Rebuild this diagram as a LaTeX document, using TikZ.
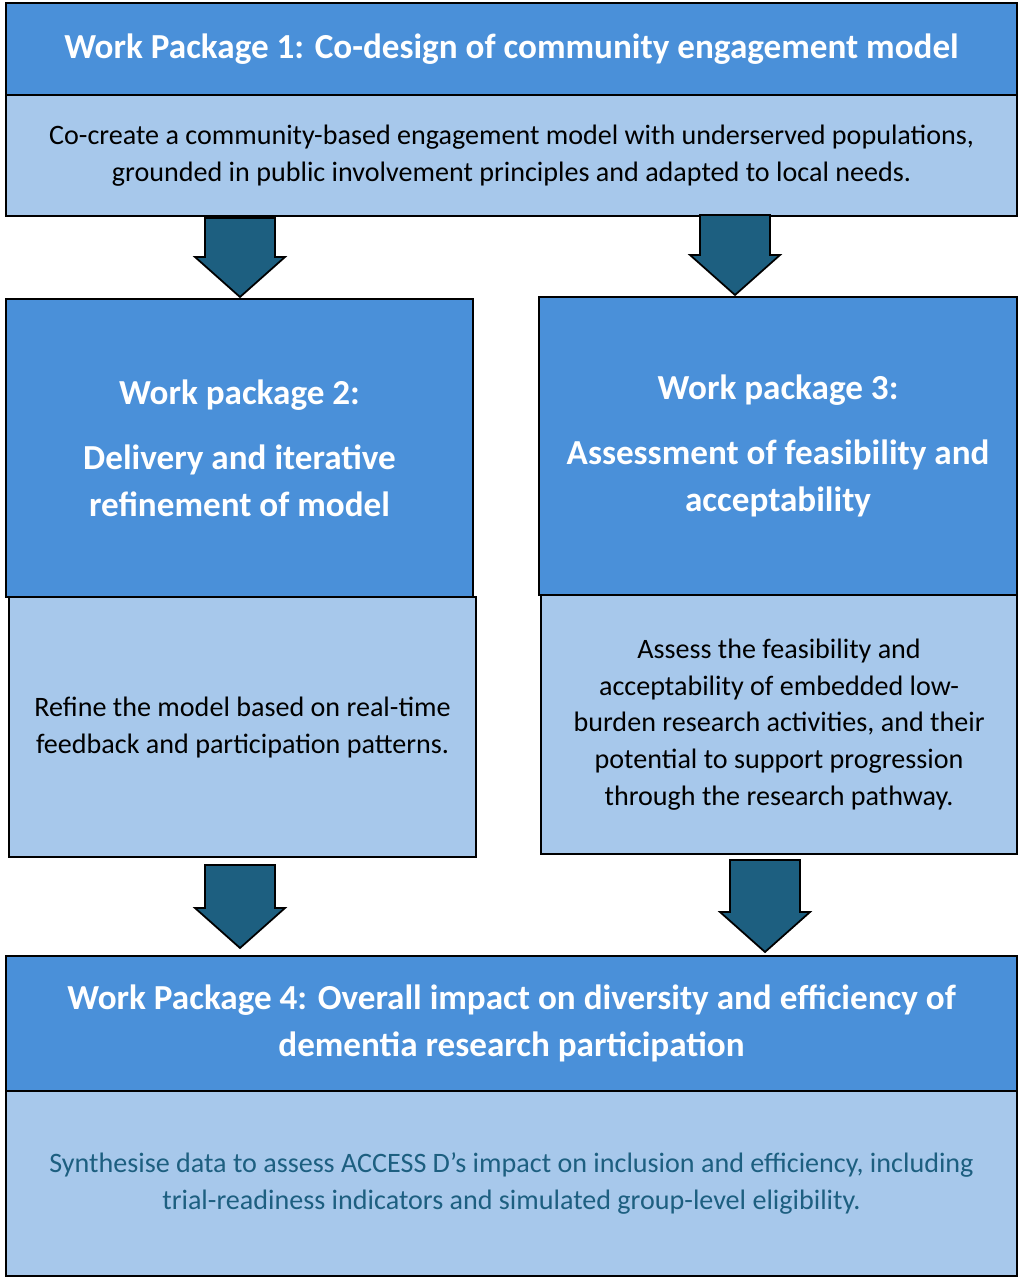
\documentclass[tikz,border=0pt]{standalone}
\usepackage{fontspec}
\setmainfont{Carlito}
\usetikzlibrary{positioning}
\definecolor{headblue}{HTML}{4A90D9}
\definecolor{bodyblue}{HTML}{A7C8EB}
\definecolor{arrowteal}{HTML}{1D5F80}
\tikzset{
  head/.style={draw=black,line width=1.2pt,fill=headblue,anchor=north west,inner sep=0pt,
    text=white,font=\bfseries\fontsize{20}{27}\selectfont,align=center},
  body/.style={draw=black,line width=1.2pt,fill=bodyblue,anchor=north west,inner sep=0pt,
    font=\fontsize{16}{21}\selectfont,align=center},
  blockarrow/.style={draw=black,line width=1pt,fill=arrowteal}
}
\newcommand{\downarrowblock}[3]{% x, top, bottom
  \draw[blockarrow] (#1-35,#2) -- (#1+35,#2) -- (#1+35,#3-40) -- (#1+45,#3-40) -- (#1,#3)
    -- (#1-45,#3-40) -- (#1-35,#3-40) -- cycle;}
\begin{document}
\begin{tikzpicture}[x=0.02cm,y=-0.02cm]
\useasboundingbox (0,0) rectangle (1021,1280);
% work package 1
\node[head,minimum width=1011*0.02cm,minimum height=92*0.02cm] (wp1) at (5,2)
  {Work Package 1: Co-design of community engagement model};
\node[body,minimum width=1011*0.02cm,minimum height=121*0.02cm] (wp1b) at (5,94)
  {Co-create a community-based engagement model with underserved populations,\\
   grounded in public involvement principles and adapted to local needs.};
% work package 2
\node[head,minimum width=467*0.02cm,minimum height=298*0.02cm] (wp2) at (5,298)
  {Work package 2:\\[10pt] Delivery and iterative\\ refinement of model};
\node[body,minimum width=467*0.02cm,minimum height=260*0.02cm] (wp2b) at (8,596)
  {Refine the model based on real-time\\ feedback and participation patterns.};
% work package 3
\node[head,minimum width=478*0.02cm,minimum height=298*0.02cm] (wp3) at (538,296)
  {Work package 3:\\[10pt] Assessment of feasibility and\\ acceptability};
\node[body,minimum width=476*0.02cm,minimum height=259*0.02cm] (wp3b) at (540,594)
  {Assess the feasibility and\\ acceptability of embedded low-\\ burden research activities, and their\\
   potential to support progression\\ through the research pathway.};
% work package 4
\node[head,minimum width=1011*0.02cm,minimum height=135*0.02cm] (wp4) at (5,955)
  {Work Package 4: Overall impact on diversity and efficiency of\\ dementia research participation};
\node[body,minimum width=1011*0.02cm,minimum height=185*0.02cm,text=arrowteal] (wp4b) at (5,1090)
  {Synthesise data to assess ACCESS D’s impact on inclusion and efficiency, including\\
   trial-readiness indicators and simulated group-level eligibility.};
% arrows
\downarrowblock{240}{218}{297}
\downarrowblock{735}{215}{295}
\downarrowblock{240}{865}{948}
\downarrowblock{765}{860}{952}
\end{tikzpicture}
\end{document}
